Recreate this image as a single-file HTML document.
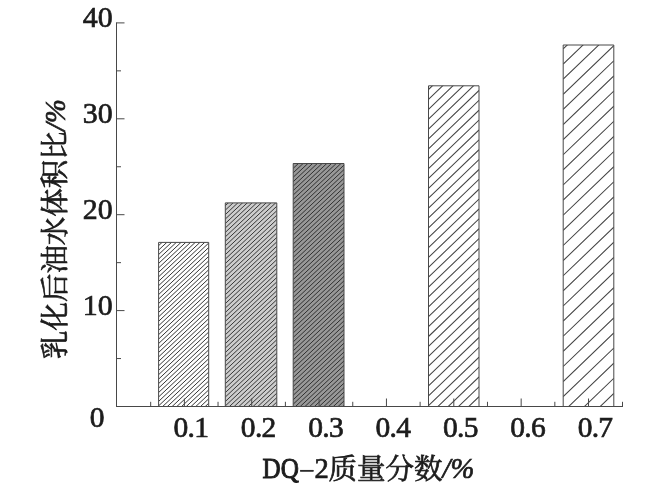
<!DOCTYPE html>
<html lang="zh"><head><meta charset="utf-8"><title>DQ-2 chart</title>
<style>html,body{margin:0;padding:0;background:#fff}body{width:650px;height:488px;overflow:hidden;position:relative;font-family:"Liberation Serif",serif}svg{position:absolute;left:0;top:0;display:block;will-change:transform}text{font-family:"Liberation Serif","Noto Serif CJK SC",serif;fill:#1c1c1c}.sr{position:absolute;left:0;top:0;width:1px;height:1px;overflow:hidden;color:transparent;font-size:1px}</style></head><body>
<svg width="650" height="488" viewBox="0 0 650 488">
<rect width="650" height="488" fill="#ffffff"/>
<defs>
<clipPath id="c0"><rect x="158.60" y="242.40" width="50.10" height="164.10"/></clipPath>
<clipPath id="c1"><rect x="225.30" y="202.90" width="51.50" height="203.60"/></clipPath>
<clipPath id="c2"><rect x="293.20" y="163.50" width="50.80" height="243.00"/></clipPath>
<clipPath id="c3"><rect x="428.50" y="85.80" width="50.50" height="320.70"/></clipPath>
<clipPath id="c4"><rect x="563.20" y="45.00" width="50.60" height="361.50"/></clipPath>
</defs>
<rect x="158.60" y="242.40" width="50.10" height="164.10" fill="#ffffff"/>
<path d="M158.60 245.65L208.70 198.56M158.60 250.10L208.70 203.01M158.60 254.55L208.70 207.46M158.60 259.00L208.70 211.91M158.60 263.45L208.70 216.36M158.60 267.90L208.70 220.81M158.60 272.35L208.70 225.26M158.60 276.80L208.70 229.71M158.60 281.25L208.70 234.16M158.60 285.70L208.70 238.61M158.60 290.15L208.70 243.06M158.60 294.60L208.70 247.51M158.60 299.05L208.70 251.96M158.60 303.50L208.70 256.41M158.60 307.95L208.70 260.86M158.60 312.40L208.70 265.31M158.60 316.85L208.70 269.76M158.60 321.30L208.70 274.21M158.60 325.75L208.70 278.66M158.60 330.20L208.70 283.11M158.60 334.65L208.70 287.56M158.60 339.10L208.70 292.01M158.60 343.55L208.70 296.46M158.60 348.00L208.70 300.91M158.60 352.45L208.70 305.36M158.60 356.90L208.70 309.81M158.60 361.35L208.70 314.26M158.60 365.80L208.70 318.71M158.60 370.25L208.70 323.16M158.60 374.70L208.70 327.61M158.60 379.15L208.70 332.06M158.60 383.60L208.70 336.51M158.60 388.05L208.70 340.96M158.60 392.50L208.70 345.41M158.60 396.95L208.70 349.86M158.60 401.40L208.70 354.31M158.60 405.85L208.70 358.76M158.60 410.30L208.70 363.21M158.60 414.75L208.70 367.66M158.60 419.20L208.70 372.11M158.60 423.65L208.70 376.56M158.60 428.10L208.70 381.01M158.60 432.55L208.70 385.46M158.60 437.00L208.70 389.91M158.60 441.45L208.70 394.36M158.60 445.90L208.70 398.81M158.60 450.35L208.70 403.26M158.60 454.80L208.70 407.71" stroke="#363636" stroke-width="1.00" fill="none" clip-path="url(#c0)"/>
<path d="M158.60 406.50V242.40H208.70V406.50" stroke="#484848" stroke-width="1" fill="none"/>
<rect x="225.30" y="202.90" width="51.50" height="203.60" fill="#cdcdcd"/>
<path d="M225.30 205.70L276.80 157.29M225.30 210.15L276.80 161.74M225.30 214.60L276.80 166.19M225.30 219.05L276.80 170.64M225.30 223.50L276.80 175.09M225.30 227.95L276.80 179.54M225.30 232.40L276.80 183.99M225.30 236.85L276.80 188.44M225.30 241.30L276.80 192.89M225.30 245.75L276.80 197.34M225.30 250.20L276.80 201.79M225.30 254.65L276.80 206.24M225.30 259.10L276.80 210.69M225.30 263.55L276.80 215.14M225.30 268.00L276.80 219.59M225.30 272.45L276.80 224.04M225.30 276.90L276.80 228.49M225.30 281.35L276.80 232.94M225.30 285.80L276.80 237.39M225.30 290.25L276.80 241.84M225.30 294.70L276.80 246.29M225.30 299.15L276.80 250.74M225.30 303.60L276.80 255.19M225.30 308.05L276.80 259.64M225.30 312.50L276.80 264.09M225.30 316.95L276.80 268.54M225.30 321.40L276.80 272.99M225.30 325.85L276.80 277.44M225.30 330.30L276.80 281.89M225.30 334.75L276.80 286.34M225.30 339.20L276.80 290.79M225.30 343.65L276.80 295.24M225.30 348.10L276.80 299.69M225.30 352.55L276.80 304.14M225.30 357.00L276.80 308.59M225.30 361.45L276.80 313.04M225.30 365.90L276.80 317.49M225.30 370.35L276.80 321.94M225.30 374.80L276.80 326.39M225.30 379.25L276.80 330.84M225.30 383.70L276.80 335.29M225.30 388.15L276.80 339.74M225.30 392.60L276.80 344.19M225.30 397.05L276.80 348.64M225.30 401.50L276.80 353.09M225.30 405.95L276.80 357.54M225.30 410.40L276.80 361.99M225.30 414.85L276.80 366.44M225.30 419.30L276.80 370.89M225.30 423.75L276.80 375.34M225.30 428.20L276.80 379.79M225.30 432.65L276.80 384.24M225.30 437.10L276.80 388.69M225.30 441.55L276.80 393.14M225.30 446.00L276.80 397.59M225.30 450.45L276.80 402.04M225.30 454.90L276.80 406.49M225.30 459.35L276.80 410.94" stroke="#363636" stroke-width="1.00" fill="none" clip-path="url(#c1)"/>
<path d="M225.30 406.50V202.90H276.80V406.50" stroke="#484848" stroke-width="1" fill="none"/>
<rect x="293.20" y="163.50" width="50.80" height="243.00" fill="#989898"/>
<path d="M293.20 163.90L344.00 116.15M293.20 168.35L344.00 120.60M293.20 172.80L344.00 125.05M293.20 177.25L344.00 129.50M293.20 181.70L344.00 133.95M293.20 186.15L344.00 138.40M293.20 190.60L344.00 142.85M293.20 195.05L344.00 147.30M293.20 199.50L344.00 151.75M293.20 203.95L344.00 156.20M293.20 208.40L344.00 160.65M293.20 212.85L344.00 165.10M293.20 217.30L344.00 169.55M293.20 221.75L344.00 174.00M293.20 226.20L344.00 178.45M293.20 230.65L344.00 182.90M293.20 235.10L344.00 187.35M293.20 239.55L344.00 191.80M293.20 244.00L344.00 196.25M293.20 248.45L344.00 200.70M293.20 252.90L344.00 205.15M293.20 257.35L344.00 209.60M293.20 261.80L344.00 214.05M293.20 266.25L344.00 218.50M293.20 270.70L344.00 222.95M293.20 275.15L344.00 227.40M293.20 279.60L344.00 231.85M293.20 284.05L344.00 236.30M293.20 288.50L344.00 240.75M293.20 292.95L344.00 245.20M293.20 297.40L344.00 249.65M293.20 301.85L344.00 254.10M293.20 306.30L344.00 258.55M293.20 310.75L344.00 263.00M293.20 315.20L344.00 267.45M293.20 319.65L344.00 271.90M293.20 324.10L344.00 276.35M293.20 328.55L344.00 280.80M293.20 333.00L344.00 285.25M293.20 337.45L344.00 289.70M293.20 341.90L344.00 294.15M293.20 346.35L344.00 298.60M293.20 350.80L344.00 303.05M293.20 355.25L344.00 307.50M293.20 359.70L344.00 311.95M293.20 364.15L344.00 316.40M293.20 368.60L344.00 320.85M293.20 373.05L344.00 325.30M293.20 377.50L344.00 329.75M293.20 381.95L344.00 334.20M293.20 386.40L344.00 338.65M293.20 390.85L344.00 343.10M293.20 395.30L344.00 347.55M293.20 399.75L344.00 352.00M293.20 404.20L344.00 356.45M293.20 408.65L344.00 360.90M293.20 413.10L344.00 365.35M293.20 417.55L344.00 369.80M293.20 422.00L344.00 374.25M293.20 426.45L344.00 378.70M293.20 430.90L344.00 383.15M293.20 435.35L344.00 387.60M293.20 439.80L344.00 392.05M293.20 444.25L344.00 396.50M293.20 448.70L344.00 400.95M293.20 453.15L344.00 405.40M293.20 457.60L344.00 409.85" stroke="#303030" stroke-width="1.00" fill="none" clip-path="url(#c2)"/>
<path d="M293.20 406.50V163.50H344.00V406.50" stroke="#484848" stroke-width="1" fill="none"/>
<rect x="428.50" y="85.80" width="50.50" height="320.70" fill="#ffffff"/>
<path d="M428.50 89.50L479.00 41.02M428.50 99.38L479.00 50.90M428.50 109.26L479.00 60.78M428.50 119.14L479.00 70.66M428.50 129.02L479.00 80.54M428.50 138.90L479.00 90.42M428.50 148.78L479.00 100.30M428.50 158.66L479.00 110.18M428.50 168.54L479.00 120.06M428.50 178.42L479.00 129.94M428.50 188.30L479.00 139.82M428.50 198.18L479.00 149.70M428.50 208.06L479.00 159.58M428.50 217.94L479.00 169.46M428.50 227.82L479.00 179.34M428.50 237.70L479.00 189.22M428.50 247.58L479.00 199.10M428.50 257.46L479.00 208.98M428.50 267.34L479.00 218.86M428.50 277.22L479.00 228.74M428.50 287.10L479.00 238.62M428.50 296.98L479.00 248.50M428.50 306.86L479.00 258.38M428.50 316.74L479.00 268.26M428.50 326.62L479.00 278.14M428.50 336.50L479.00 288.02M428.50 346.38L479.00 297.90M428.50 356.26L479.00 307.78M428.50 366.14L479.00 317.66M428.50 376.02L479.00 327.54M428.50 385.90L479.00 337.42M428.50 395.78L479.00 347.30M428.50 405.66L479.00 357.18M428.50 415.54L479.00 367.06M428.50 425.42L479.00 376.94M428.50 435.30L479.00 386.82M428.50 445.18L479.00 396.70M428.50 455.06L479.00 406.58" stroke="#454545" stroke-width="1.05" fill="none" clip-path="url(#c3)"/>
<path d="M428.50 406.50V85.80H479.00V406.50" stroke="#484848" stroke-width="1" fill="none"/>
<rect x="563.20" y="45.00" width="50.60" height="361.50" fill="#ffffff"/>
<path d="M563.20 48.90L613.80 0.32M563.20 64.02L613.80 15.44M563.20 79.14L613.80 30.56M563.20 94.26L613.80 45.68M563.20 109.38L613.80 60.80M563.20 124.50L613.80 75.92M563.20 139.62L613.80 91.04M563.20 154.74L613.80 106.16M563.20 169.86L613.80 121.28M563.20 184.98L613.80 136.40M563.20 200.10L613.80 151.52M563.20 215.22L613.80 166.64M563.20 230.34L613.80 181.76M563.20 245.46L613.80 196.88M563.20 260.58L613.80 212.00M563.20 275.70L613.80 227.12M563.20 290.82L613.80 242.24M563.20 305.94L613.80 257.36M563.20 321.06L613.80 272.48M563.20 336.18L613.80 287.60M563.20 351.30L613.80 302.72M563.20 366.42L613.80 317.84M563.20 381.54L613.80 332.96M563.20 396.66L613.80 348.08M563.20 411.78L613.80 363.20M563.20 426.90L613.80 378.32M563.20 442.02L613.80 393.44M563.20 457.14L613.80 408.56" stroke="#454545" stroke-width="1.05" fill="none" clip-path="url(#c4)"/>
<path d="M563.20 406.50V45.00H613.80V406.50" stroke="#484848" stroke-width="1" fill="none"/>
<path d="M116.50 22.40V407.00M116.00 406.50H623.00M116.50 310.60H124.50M116.50 214.70H124.50M116.50 118.80H124.50M116.50 22.90H124.50M116.50 358.55H121.00M116.50 262.65H121.00M116.50 166.75H121.00M116.50 70.85H121.00M150.68 406.50V401.80M184.36 406.50V398.50M218.04 406.50V401.80M251.72 406.50V398.50M285.40 406.50V401.80M319.08 406.50V398.50M352.76 406.50V401.80M386.44 406.50V398.50M420.12 406.50V401.80M453.80 406.50V398.50M487.48 406.50V401.80M521.16 406.50V398.50M554.84 406.50V401.80M588.52 406.50V398.50M622.50 406.50V401.80" stroke="#484848" stroke-width="1" fill="none"/>
<text x="112.6" y="315.10" text-anchor="end" font-size="29.9" stroke="#1c1c1c" stroke-width="0.70">10</text>
<text x="112.6" y="219.20" text-anchor="end" font-size="29.9" stroke="#1c1c1c" stroke-width="0.70">20</text>
<text x="112.6" y="123.30" text-anchor="end" font-size="29.9" stroke="#1c1c1c" stroke-width="0.70">30</text>
<text x="112.6" y="27.40" text-anchor="end" font-size="29.9" stroke="#1c1c1c" stroke-width="0.70">40</text>
<text x="97.2" y="426.5" text-anchor="middle" font-size="29.5" stroke="#1c1c1c" stroke-width="0.70">0</text>
<text x="190.86" y="437.0" text-anchor="middle" letter-spacing="-0.7" font-size="29.5" stroke="#1c1c1c" stroke-width="0.70">0.1</text>
<text x="258.22" y="437.0" text-anchor="middle" letter-spacing="-0.7" font-size="29.5" stroke="#1c1c1c" stroke-width="0.70">0.2</text>
<text x="325.58" y="437.0" text-anchor="middle" letter-spacing="-0.7" font-size="29.5" stroke="#1c1c1c" stroke-width="0.70">0.3</text>
<text x="392.94" y="437.0" text-anchor="middle" letter-spacing="-0.7" font-size="29.5" stroke="#1c1c1c" stroke-width="0.70">0.4</text>
<text x="460.30" y="437.0" text-anchor="middle" letter-spacing="-0.7" font-size="29.5" stroke="#1c1c1c" stroke-width="0.70">0.5</text>
<text x="527.66" y="437.0" text-anchor="middle" letter-spacing="-0.7" font-size="29.5" stroke="#1c1c1c" stroke-width="0.70">0.6</text>
<text x="595.02" y="437.0" text-anchor="middle" letter-spacing="-0.7" font-size="29.5" stroke="#1c1c1c" stroke-width="0.70">0.7</text>
<g fill="#1c1c1c" stroke="#1c1c1c" stroke-width="0.70">
<text transform="translate(262.60 477.60) scale(0.8680 1)" x="0" y="0" font-size="29" stroke-width="1.0">DQ</text>
<rect x="300.2" y="470.1" width="13.4" height="1.5" stroke-width="0.3"/>
<text x="314.6" y="477.60" font-size="28.6">2</text>
<text x="328.46" y="478.70" font-size="28.5">质量分数</text>
<text x="442.5" y="478.00" font-size="28.6" font-style="italic">/%</text>
</g>
<g transform="translate(65.10 359) rotate(-90)" fill="#1c1c1c" stroke="#1c1c1c" stroke-width="0.70">
<text x="0.07" y="0" font-size="28.46">乳化后油水体积比</text>
<text x="228" y="0" font-size="28.6" font-style="italic">/%</text>
</g>
</svg>
<div class="sr">乳化后油水体积比/% DQ–2质量分数/%</div>
</body></html>
